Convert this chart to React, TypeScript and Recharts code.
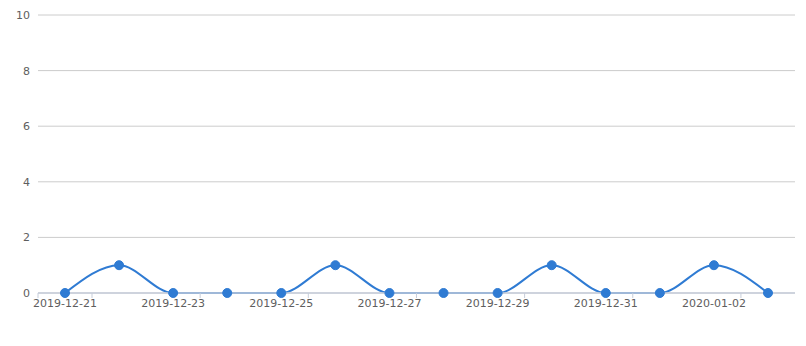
import { LineChart, Line, XAxis, YAxis, CartesianGrid, ReferenceLine } from "recharts";

const dates = [
	"2019-12-21",
	"2019-12-22",
	"2019-12-23",
	"2019-12-24",
	"2019-12-25",
	"2019-12-26",
	"2019-12-27",
	"2019-12-28",
	"2019-12-29",
	"2019-12-30",
	"2019-12-31",
	"2020-01-01",
	"2020-01-02",
	"2020-01-03",
];
const counts = [0, 1, 0, 0, 0, 1, 0, 0, 0, 1, 0, 0, 1, 0];
const yTicks = [0, 2, 4, 6, 8, 10];

const data = dates.map((d, i) => ({ date: d, count: counts[i] }));

const HALF = 27;

const DateTick = (props: any) => {
	const { x, y, payload, index } = props;
	const top = y - 8;
	return (
		<g>
			{index === 0 && <line x1={x - HALF} x2={x - HALF} y1={top} y2={top + 5} stroke="#c6cdda" />}
			<line x1={x + HALF} x2={x + HALF} y1={top} y2={top + 5} stroke="#c6cdda" />
			<text x={x} y={y + 6} textAnchor="middle" fill="#5e5e5e" fontSize={11} fontFamily="DejaVu Sans">
				{payload.value}
			</text>
		</g>
	);
};

export default function App() {
	return (
		<LineChart
			width={798}
			height={338}
			data={data}
			margin={{ top: 7, right: 11, bottom: 23, left: 0 }}
		>
			<CartesianGrid horizontal vertical={false} stroke="#cccccc" />
			<XAxis
				dataKey="date"
				interval={1}
				padding={{ left: HALF, right: HALF }}
				axisLine={false}
				tickLine={false}
				height={30}
				tick={<DateTick />}
			/>
			<YAxis
				domain={[0, 10]}
				ticks={yTicks}
				width={30}
				axisLine={false}
				tickLine={false}
				tick={{ fill: "#5e5e5e", fontSize: 11, fontFamily: "DejaVu Sans" }}
			/>
			<Line
				type="monotone"
				dataKey="count"
				stroke="#2f7bd3"
				strokeWidth={2}
				dot={{ r: 4.5, fill: "#2f7bd3", stroke: "#2f7bd3", strokeWidth: 1 }}
				isAnimationActive={false}
			/>
			<ReferenceLine y={0} stroke="#c6cdda" strokeWidth={1.5} />
		</LineChart>
	);
}
